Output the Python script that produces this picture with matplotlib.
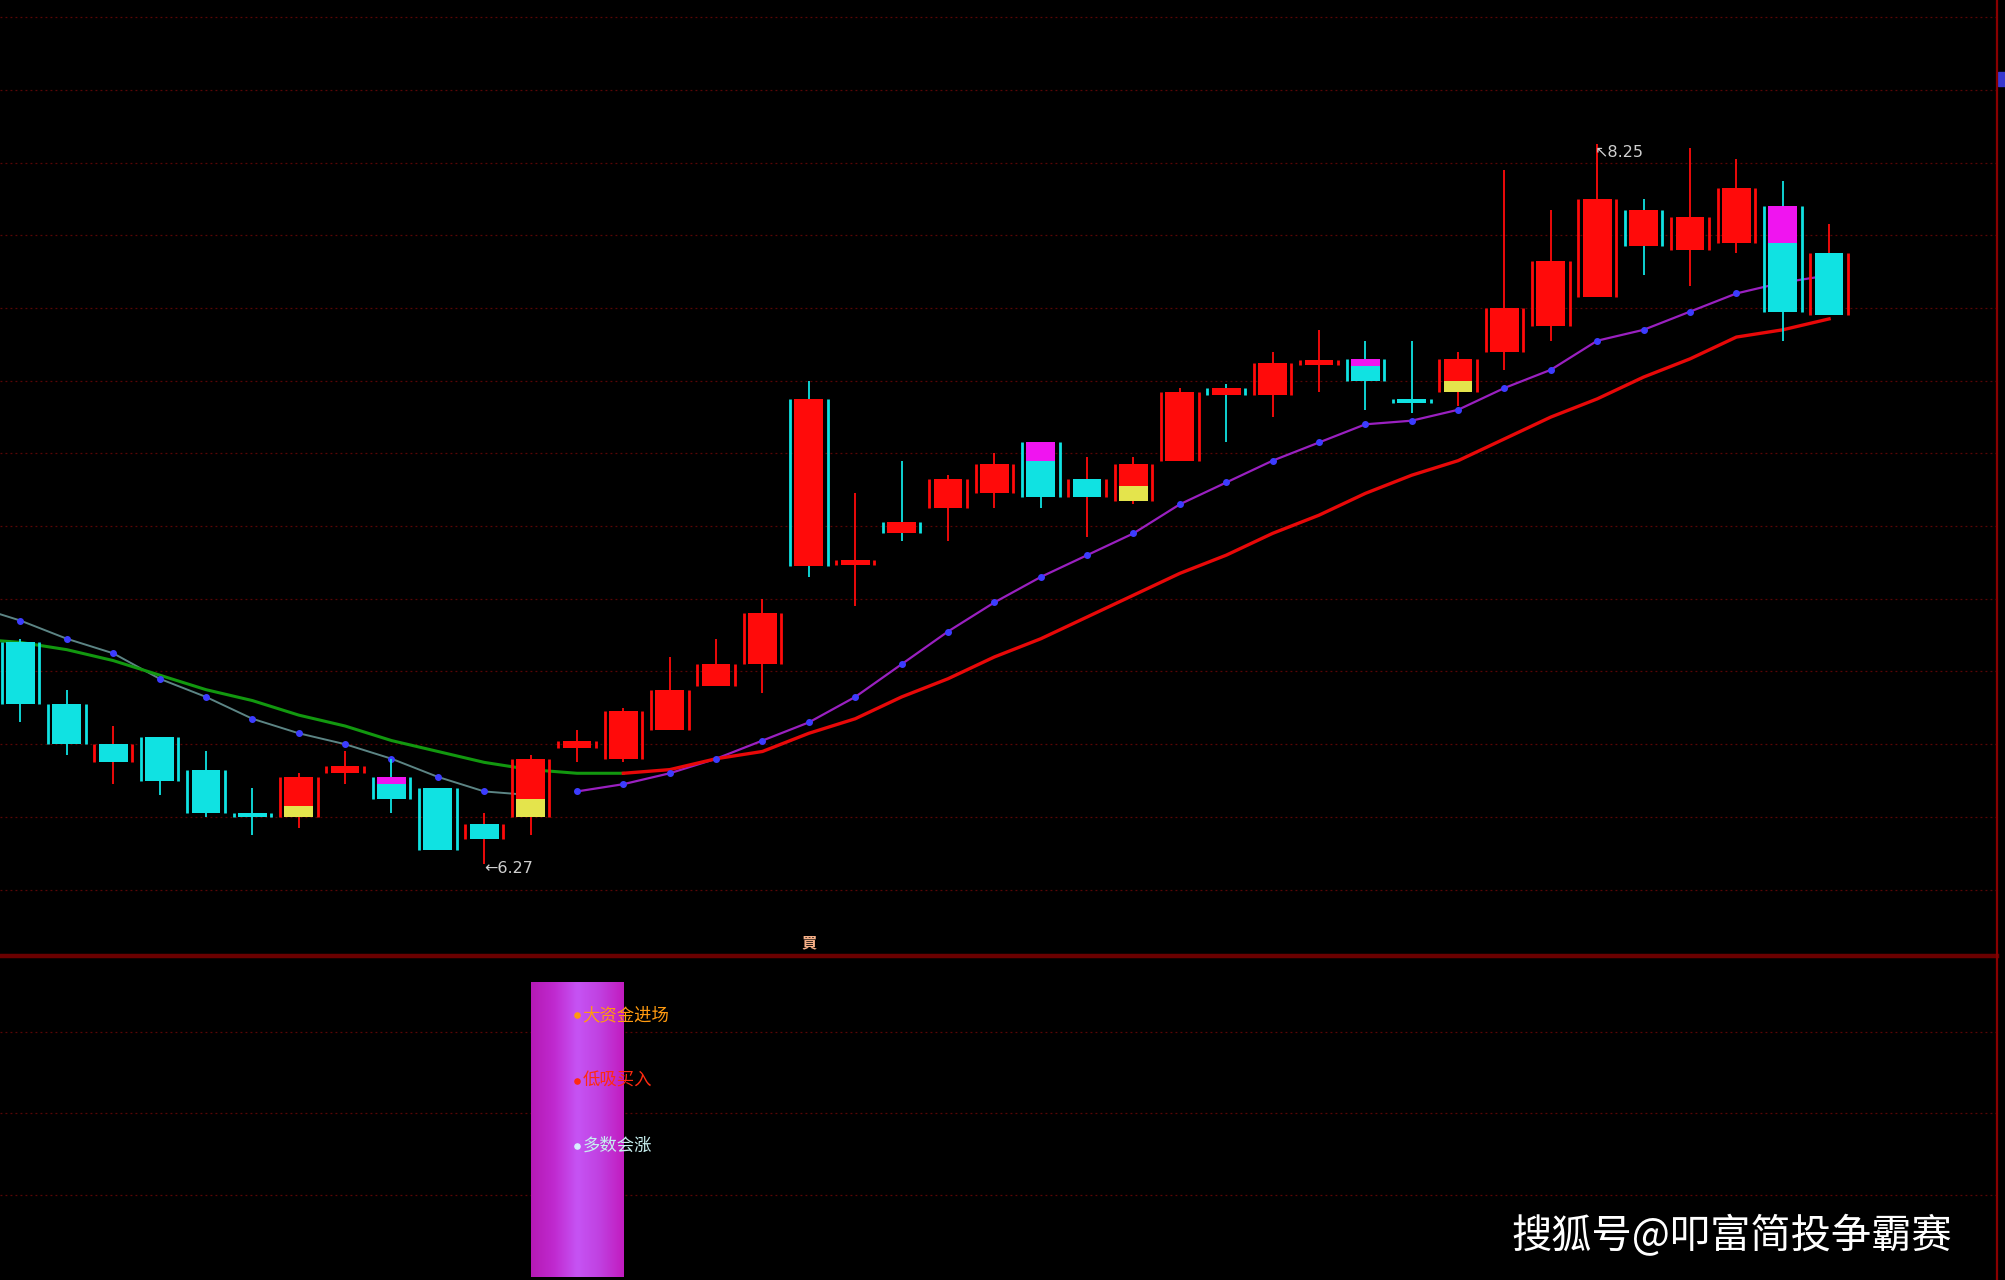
import matplotlib

matplotlib.use("Agg")
import matplotlib.pyplot as plt
import numpy as np
from matplotlib.colors import LinearSegmentedColormap
from matplotlib.lines import Line2D
from matplotlib.patches import Rectangle

plt.rcParams["font.family"] = ["Noto Sans CJK SC", "DejaVu Sans"]

# daily candles, left to right
opens = [6.88, 6.71, 6.60, 6.62, 6.53, 6.41, 6.40, 6.52, 6.51, 6.48,
         6.38, 6.40, 6.59, 6.56, 6.64, 6.76, 6.82, 7.09, 7.10, 7.18,
         7.25, 7.29, 7.43, 7.33, 7.27, 7.38, 7.56, 7.56, 7.65, 7.66,
         7.55, 7.57, 7.68, 7.75, 7.83, 7.97, 7.96, 7.98, 8.08, 7.95]
highs = [6.89, 6.75, 6.65, 6.62, 6.58, 6.48, 6.52, 6.58, 6.56, 6.48,
         6.41, 6.57, 6.64, 6.70, 6.84, 6.89, 7.00, 7.60, 7.29, 7.38,
         7.34, 7.40, 7.43, 7.39, 7.39, 7.58, 7.59, 7.68, 7.74, 7.71,
         7.71, 7.68, 8.18, 8.07, 8.25, 8.10, 8.24, 8.21, 8.15, 8.03]
lows = [6.66, 6.57, 6.49, 6.46, 6.40, 6.35, 6.37, 6.49, 6.41, 6.31,
        6.27, 6.35, 6.55, 6.55, 6.64, 6.76, 6.74, 7.06, 6.98, 7.16,
        7.16, 7.25, 7.25, 7.17, 7.26, 7.38, 7.43, 7.50, 7.57, 7.52,
        7.51, 7.53, 7.63, 7.71, 7.83, 7.89, 7.86, 7.95, 7.71, 7.78]
closes = [6.71, 6.60, 6.55, 6.50, 6.41, 6.40, 6.51, 6.54, 6.45, 6.31,
          6.34, 6.56, 6.61, 6.69, 6.75, 6.82, 6.96, 7.55, 7.10, 7.21,
          7.33, 7.37, 7.28, 7.28, 7.37, 7.57, 7.58, 7.65, 7.65, 7.60,
          7.54, 7.66, 7.80, 7.93, 8.10, 8.07, 8.05, 8.13, 7.79, 7.78]

# candles whose outline/wick is drawn in the opposite colour
alt_edge = [2, 10, 17, 19, 23, 26, 35, 39]
# yellow bottom part on red candles (top price of the yellow block)
yellow_top = {6: 6.43, 11: 6.45, 24: 7.31, 31: 7.60}
# magenta top part on teal candles (bottom price of the magenta block)
magenta_bottom = {8: 6.49, 22: 7.38, 29: 7.64, 38: 7.98}

# moving averages, first value belongs to the bar just left of the window
ma_short = [6.98, 6.94, 6.89, 6.85, 6.78, 6.73, 6.67, 6.63, 6.60, 6.56,
            6.51, 6.47, 6.46, 6.47, 6.49, 6.52, 6.56, 6.61, 6.66, 6.73,
            6.82, 6.91, 6.99, 7.06, 7.12, 7.18, 7.26, 7.32, 7.38, 7.43,
            7.48, 7.49, 7.52, 7.58, 7.63, 7.71, 7.74, 7.79, 7.84, 7.87,
            7.89]
ma_long = [6.89, 6.88, 6.86, 6.83, 6.79, 6.75, 6.72, 6.68, 6.65, 6.61,
           6.58, 6.55, 6.53, 6.52, 6.52, 6.53, 6.56, 6.58, 6.63, 6.67,
           6.73, 6.78, 6.84, 6.89, 6.95, 7.01, 7.07, 7.12, 7.18, 7.23,
           7.29, 7.34, 7.38, 7.44, 7.50, 7.55, 7.61, 7.66, 7.72, 7.74,
           7.77]
ma_short_turn = 12  # falling part ends before, rising part starts here
ma_long_turn = 13

grid_prices = [6.2, 6.4, 6.6, 6.8, 7.0, 7.2, 7.4, 7.6, 7.8, 8.0, 8.2, 8.4, 8.6]

signal_idx = 17
signal_mark = "買"
bar_start, bar_end, bar_height = 11, 13, 90
signal_texts = ["大资金进场", "低吸买入", "多数会涨"]
signal_levels = [80, 60, 40]
signal_colors = ["#ff9a10", "#ff2a10", "#c8f0f0"]
bullet_colors = ["#ff9a10", "#ff2a10", "#d8f0ff"]
lower_grid = [25, 50, 75]

RED = "#ff0a0a"
TEAL = "#10e2e2"

W, H = 2005, 1280
split = 956
right = 1997
fig = plt.figure(figsize=(W / 100, H / 100), dpi=100, facecolor="black")
ax = fig.add_axes([0, 1 - split / H, right / W, split / H], facecolor="black")
low_ax = fig.add_axes([0, 0, right / W, 1 - split / H], facecolor="black",
                      sharex=ax)

n = len(opens)
ax.set_xlim(-0.442, 42.62)
ax.set_ylim(6.0173, 8.6473)

for price in grid_prices:
    ax.axhline(price, color="#5a0606", lw=0.9, ls=(0, (1.5, 2.5)), zorder=0)

# moving averages
xs = np.arange(-1, n)
ms = np.array(ma_short)
ml = np.array(ma_long)
t = ma_short_turn + 1
ax.plot(xs[:t], ms[:t], color="#5c8585", lw=1.4, zorder=2)
ax.plot(xs[t:], ms[t:], color="#9a20c0", lw=1.6, zorder=2)
ax.scatter(xs[1:], ms[1:], s=16, color="#3c3cff", zorder=2.5)
t = ma_long_turn + 1
ax.plot(xs[:t + 1], ml[:t + 1], color="#12980f", lw=2.2, zorder=2)
ax.plot(xs[t:], ml[t:], color="#e80808", lw=2.4, zorder=2)

# candles
half_body = 0.31
edge_off = 0.405
for i in range(n):
    o, h, l, c = opens[i], highs[i], lows[i], closes[i]
    up = c >= o
    fill = RED if up else TEAL
    edge = (TEAL if up else RED) if i in alt_edge else fill
    bottom, top = min(o, c), max(o, c)
    if top - bottom < 0.012:
        mid = (top + bottom) / 2
        bottom, top = mid - 0.006, mid + 0.006
    ax.vlines(i, l, h, color=edge, lw=1.3, zorder=3)
    ax.add_patch(Rectangle((i - half_body, bottom), 2 * half_body, top - bottom,
                           facecolor=fill, edgecolor="none", zorder=4))
    if i in yellow_top:
        ax.add_patch(Rectangle((i - half_body, bottom), 2 * half_body,
                               yellow_top[i] - bottom, facecolor="#e4e44c",
                               edgecolor="none", zorder=4.5))
    if i in magenta_bottom:
        ax.add_patch(Rectangle((i - half_body, magenta_bottom[i]), 2 * half_body,
                               top - magenta_bottom[i], facecolor="#f014f0",
                               edgecolor="none", zorder=4.5))
    ax.vlines([i - edge_off, i + edge_off], bottom, top, color=edge, lw=2.0,
              zorder=4)

# extreme price labels
lo_i = int(np.argmin(lows))
hi_i = int(np.argmax(highs))
ax.annotate(f"←{lows[lo_i]:.2f}", (lo_i, lows[lo_i]), xytext=(0, -3),
            textcoords="offset points", ha="left", va="center",
            color="#cfcfcf", fontsize=11.5, family=["DejaVu Sans"], zorder=6)
ax.annotate(f"↖{highs[hi_i]:.2f}", (hi_i, highs[hi_i]), xytext=(-2, -6),
            textcoords="offset points", ha="left", va="center",
            color="#cfcfcf", fontsize=11.5, family=["DejaVu Sans"], zorder=6)

ax.text(signal_idx, 0.014, signal_mark, transform=ax.get_xaxis_transform(),
        ha="center", va="center", color="#f6b088", fontsize=11,
        fontweight="bold", zorder=6)

# lower panel
for level in lower_grid:
    low_ax.axhline(level, color="#5a0606", lw=0.9, ls=(0, (1.5, 2.5)), zorder=0)

bar_cmap = LinearSegmentedColormap.from_list(
    "bar", ["#b51ab5", "#c02ad0", "#c654f4", "#c040e0", "#c21cc0"])
gradient = np.linspace(0, 1, 64)[None, :]
low_ax.imshow(gradient, cmap=bar_cmap, aspect="auto", zorder=1,
              extent=(bar_start, bar_end, 0, bar_height), interpolation="bilinear")
low_ax.set_xlim(-0.442, 42.62)
low_ax.set_ylim(-1.0, 98.1)

for text, level, color, bcolor in zip(signal_texts, signal_levels,
                                      signal_colors, bullet_colors):
    low_ax.scatter(bar_start + 1, level, s=14, color=bcolor, zorder=3)
    low_ax.text(bar_start + 1.12, level, text, color=color, fontsize=12.5,
                ha="left", va="center", zorder=3)

for a in (ax, low_ax):
    a.set_xticks([])
    a.set_yticks([])
    for spine in a.spines.values():
        spine.set_visible(False)

# panel separator, right border, small price marker
fig.add_artist(Line2D([0, right / W], [1 - split / H, 1 - split / H],
                      transform=fig.transFigure, color="#6a0000", lw=3.2))
fig.add_artist(Line2D([right / W, right / W], [0, 1],
                      transform=fig.transFigure, color="#8a0000", lw=1.6))
fig.add_artist(Rectangle((1998 / W, 1 - 86 / H), 7 / W, 14 / H,
                         transform=fig.transFigure, color="#3838d0"))

fig.text(1952 / W, 1 - 1236 / H, "搜狐号@叩富简投争霸赛", color="white",
         fontsize=29, ha="right", va="center")

fig.savefig("out.png", dpi=100, facecolor="black")
